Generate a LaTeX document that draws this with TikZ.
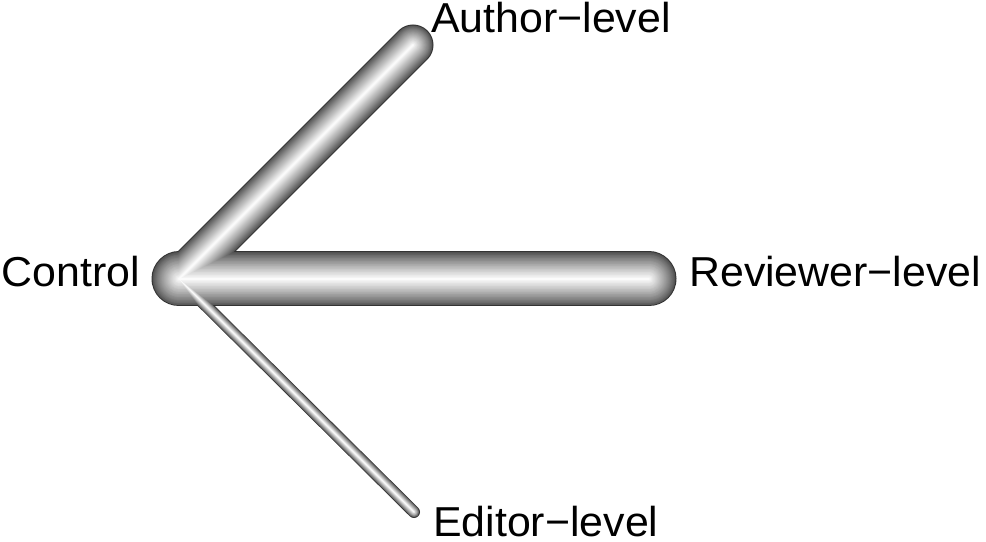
\documentclass[tikz,border=0pt]{standalone}
\usepackage{graphicx}
\usepackage{fontspec}
\setmainfont{Liberation Sans}
\newcommand{\lbl}[1]{\scalebox{1.025}[1]{#1}}
\begin{document}
\begin{tikzpicture}[x=1bp,y=-1bp,
  lab/.style={font=\fontsize{42}{42}\selectfont, inner sep=0pt, text=black},
  tube/.style={line cap=round}]
\useasboundingbox (0,0) rectangle (986,542);
\coordinate (c) at (179,279);
\coordinate (a) at (413,45);
\coordinate (r) at (649,279);
\coordinate (e) at (414,512);
% outlines
\draw[tube, black!80, line width=55bp] (c) -- (r);
\draw[tube, black!80, line width=41bp] (c) -- (a);
\draw[tube, black!80, line width=12bp] (c) -- (e);
% shaded layers
\foreach \i in {0,...,35} {
  \pgfmathsetmacro{\f}{1-\i/36}
  \pgfmathsetmacro{\b}{0.32+0.68*(1-\f)^0.85}
  \pgfmathsetmacro{\wr}{53*\f}
  \pgfmathsetmacro{\wa}{39*\f}
  \pgfmathsetmacro{\we}{10.5*\f}
  \definecolor{tc}{gray}{\b}
  \draw[tube, tc, line width=\wa bp] (c) -- (a);
  \draw[tube, tc, line width=\we bp] (c) -- (e);
  \draw[tube, tc, line width=\wr bp] (c) -- (r);
}
\node[lab, anchor=base east] (ctl) at (140,287) {\lbl{Control}};
\node[lab, anchor=base west] (aut) at (431,33) {\lbl{Author−level}};
\node[lab, anchor=base west] (rev) at (689,287) {\lbl{Reviewer−level}};
\node[lab, anchor=base west] (edi) at (433,536) {\lbl{Editor−level}};
\end{tikzpicture}
\end{document}
